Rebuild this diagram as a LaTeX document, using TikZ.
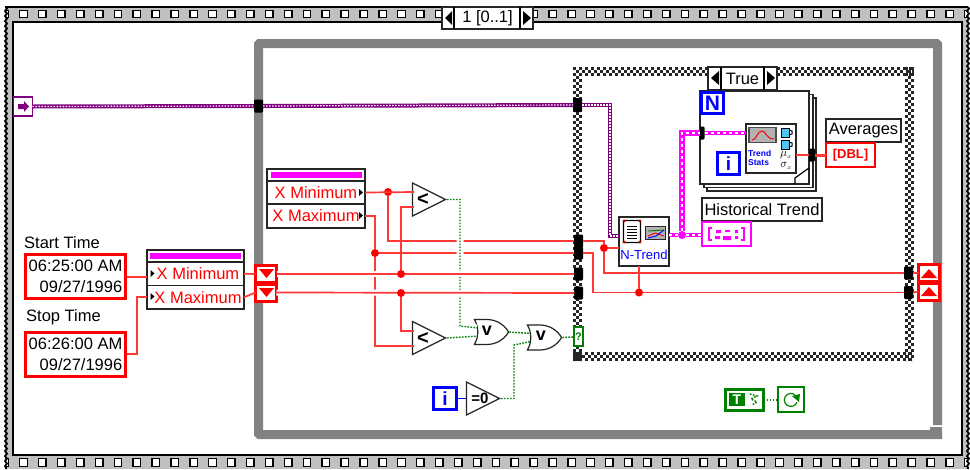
\documentclass[tikz,border=0pt]{standalone}
\usepackage{amsmath,amssymb}
\usepackage{fontspec}
\setmainfont{Liberation Sans}
\usepackage{xcolor}
\usetikzlibrary{decorations.pathmorphing,shapes.geometric,shapes.gates.logic.US}
\definecolor{wirered}{HTML}{FF3838}
\definecolor{wirepurple}{HTML}{800080}
\definecolor{arrpink}{HTML}{FF00FF}
\definecolor{stripgray}{HTML}{C0C0C0}
\definecolor{loopgray}{HTML}{828282}
\definecolor{boolgreen}{HTML}{008000}
\begin{document}
\begin{tikzpicture}[x=1pt, y=-1pt,
  wh/.style 2 args={minimum width=#1pt, minimum height=#2pt},
  cell/.style={draw=black!85, line width=1.4pt, fill=white, anchor=north west, inner sep=0pt, outer sep=0pt},
  txt/.style={font=\fontsize{16.5}{21}\selectfont, inner sep=0pt},
  rowtxt/.style={cell, text=red, font=\fontsize{16.5}{20}\selectfont},
  timebox/.style={cell, draw=red, line width=3pt, wh={100}{44}, align=right, font=\fontsize{16.5}{21}\selectfont},
  bluebox/.style={cell, draw=blue, line width=3pt, text=blue, font=\bfseries\fontsize{19}{20}\selectfont},
  shiftbox/.style={cell, draw=red, line width=3pt, wh={21}{17}},
  sprocket/.style={draw=black, line width=1.4pt, fill=white, minimum size=7.5pt, inner sep=0pt},
  checker/.style={draw=black!85, line width=3pt, dash pattern=on 3pt off 3pt},
  tunnel/.style={fill=black, rounded corners=1.2pt, inner sep=0pt, outer sep=0pt},
  jdot/.style={circle, fill=#1, inner sep=0pt, minimum size=8pt, outer sep=0pt},
  numwire/.style={draw=wirered, line width=1.7pt},
  gapwire/.style={numwire, preaction={draw=white, line width=6pt}},
  boolwire/.style={draw=boolgreen, line width=1.4pt, dash pattern=on 1.6pt off 1.4pt},
  refwire/.style={draw=wirepurple, line width=4pt, postaction={draw=white, line width=1.2pt, dash pattern=on 1.5pt off 1.5pt}},
  arrwire/.style={draw=arrpink, line width=#1, postaction={draw=white, line width=1.5pt, dash pattern=on 3pt off 3pt}},
  cmpgate/.style={isosceles triangle, isosceles triangle stretches, draw=black!85, line width=1.2pt, fill=white, wh={33}{33}, inner sep=0pt, anchor=apex},
  orgate/.style={or gate US, logic gate inputs=nn, draw=black!85, line width=1.2pt, fill=white, wh={34}{25}, inner sep=0pt}]
\useasboundingbox (0,0) rectangle (970,469);
% sequence frame
\fill[stripgray] (5,7) rectangle (968,469);
\begin{scope}
\clip (5,7) rectangle (968,469);
\foreach \n in {-1,...,50} {
  \node[sprocket] (topS\n) at (23.5+18.9*\n,14) {};
  \node[sprocket] (botS\n) at (23.5+18.9*\n,462.5) {};
}
\end{scope}
\draw[line width=1.2pt] (5,7) -- (968,7);
\draw[line width=1.8pt,decorate,decoration={snake,amplitude=1pt,segment length=5pt}] (6,7) -- (6,469);
\draw[line width=1.8pt,decorate,decoration={snake,amplitude=1pt,segment length=5pt}] (968,7) -- (968,469);
\draw[line width=1.5pt,fill=white] (13,22) rectangle (962,455);
\node[cell, wh={91}{22}, txt] (seqSel) at (442,7) {1 [0..1]};
\draw[line width=1.2pt] (454,7) -- (454,29) (520,7) -- (520,29);
\fill (452,11) -- (452,25) -- (445,18) -- cycle (523,11) -- (523,25) -- (531,18) -- cycle;
% while loop and case frame
\draw[loopgray, line width=9pt, rounded corners=1pt] (937.5,425) -- (937.5,43.5) -- (258.5,43.5) -- (258.5,434.5) -- (942,434.5);
\fill[loopgray] (930,427) rectangle (942,431);
\foreach \d/\p in {1.5/0,4.5/3,7.5/0} {
  \draw[checker, dash phase=\p pt] (573,67+\d) -- (914,67+\d);
  \draw[checker, dash phase=\p pt] (573,352+\d) -- (914,352+\d);
  \draw[checker, dash phase=\p pt] (573+\d,67) -- (573+\d,361);
  \draw[checker, dash phase=\p pt] (905+\d,67) -- (905+\d,361);
}
\node[cell, wh={69}{23}, txt] (caseSel) at (708,67) {True};
\draw[line width=1.2pt] (721,67) -- (721,90) (764,67) -- (764,90);
\fill (719,71) -- (719,85) -- (711,78) -- cycle (767,71) -- (767,85) -- (775,78) -- cycle;
% inputs
\node[cell, draw=wirepurple, wh={19}{19}] (refIn) at (13.5,97) {};
\fill[wirepurple] (18,104) -- (24,104) -- (24,101) -- (29,106.5) -- (24,112) -- (24,109) -- (18,109) -- cycle;
\node[txt, anchor=west] (startLbl) at (24,243) {Start Time};
\node[timebox] (startBox) at (25.5,254.5) {06:25:00 AM\\09/27/1996};
\node[txt, anchor=west] (stopLbl) at (26,317) {Stop Time};
\node[timebox] (stopBox) at (25.5,332.5) {06:26:00 AM\\09/27/1996};
\coordinate (startOut) at (127,277);
\coordinate (stopOut) at (127,354);
% bundle and unbundle
\node[cell, wh={97}{12}] (bunTop) at (147,250) {};
\fill[arrpink] (150,253) rectangle (241,259);
\node[rowtxt, wh={97}{23.5}] (bunMin) at (147,262) {\hspace{5pt}X Minimum};
\node[rowtxt, wh={97}{23.5}] (bunMax) at (147,285.5) {\hspace{5pt}X Maximum};
\fill (150.5,270) -- (150.5,277) -- (154.5,273.5) -- cycle (150.5,293) -- (150.5,300) -- (154.5,296.5) -- cycle;
\node[cell, wh={98}{12}] (unbTop) at (267,169) {};
\fill[arrpink] (271,172) rectangle (362,178);
\node[rowtxt, wh={98}{23}] (unbMin) at (267,181) {X Minimum\hspace{5pt}};
\node[rowtxt, wh={98}{24}] (unbMax) at (267,204) {X Maximum\hspace{5pt}};
\fill (359,189) -- (359,196) -- (363,192.5) -- cycle (359,212) -- (359,219) -- (363,215.5) -- cycle;
% shift registers
\node[shiftbox] (srLa) at (255.5,265.5) {};
\node[shiftbox] (srLb) at (255.5,284) {};
\node[shiftbox] (srRa) at (918.5,264.5) {};
\node[shiftbox] (srRb) at (918.5,283) {};
\fill[red] (259,269) -- (274,269) -- (266.5,278) -- cycle (259,288) -- (274,288) -- (266.5,297) -- cycle;
\fill[red] (921,278) -- (937,278) -- (929,269) -- cycle (921,296) -- (937,296) -- (929,287) -- cycle;
% tunnels
\node[tunnel, wh={9}{13}] (tunRefA) at (258.5,106) {};
\node[tunnel, wh={9}{14}] (tunRefB) at (577.5,105) {};
\node[tunnel, wh={9}{13}] (tunA) at (578.5,241) {};
\node[tunnel, wh={9}{13}] (tunB) at (578.5,253) {};
\node[tunnel, wh={9}{13}] (tunC) at (578.5,274) {};
\node[tunnel, wh={9}{13}] (tunD) at (578.5,293) {};
\node[tunnel, wh={9}{13}] (tunE) at (908.5,273) {};
\node[tunnel, wh={9}{13}] (tunF) at (908.5,292.5) {};
% comparators and gates
\node[cmpgate] (cmpA) at (447,199.5) {};
\node[cmpgate] (cmpB) at (447,338) {};
\node[cmpgate] (cmpZ) at (501,398.5) {};
\node[font=\bfseries\fontsize{20}{20}\selectfont, inner sep=0pt] (cmpAtxt) at (423,199) {<};
\node[font=\bfseries\fontsize{20}{20}\selectfont, inner sep=0pt] (cmpBtxt) at (423,338) {<};
\node[font=\bfseries\fontsize{15}{15}\selectfont, inner sep=0pt] (cmpZtxt) at (480,398.5) {=0};
\node[orgate] (orA) at (489,332) {};
\node[orgate] (orB) at (542,337.5) {};
\node[font=\bfseries\fontsize{18}{18}\selectfont, inner sep=0pt] (orAtxt) at (487,331) {v};
\node[font=\bfseries\fontsize{18}{18}\selectfont, inner sep=0pt] (orBtxt) at (541,336) {v};
\node[cell, draw=boolgreen, wh={9}{19}, text=boolgreen, font=\bfseries\fontsize{11}{11}\selectfont] (selQ) at (574,327) {?};
\node[bluebox, wh={23}{22}] (iterA) at (433.5,387.5) {i};
% wires on the left
\coordinate (cmpAa) at (414,192);
\coordinate (cmpAb) at (414,207);
\coordinate (cmpBa) at (414,331);
\coordinate (cmpBb) at (414,346);
\coordinate (selIn) at (574,337);
\node[jdot=red] (jMin) at (388,192) {};
\node[jdot=red] (jMax) at (375,253) {};
\draw[numwire] (startOut) -- (startOut -| bunMin.west);
\draw[numwire] (stopOut) -- ++(10,0) |- (bunMax.west);
\draw[numwire] (bunMin.east) -- (srLa.west);
\draw[numwire] (bunMax.east) -- (srLb.west);
\draw[numwire] (unbMin.east) -- (cmpAa);
\draw[numwire] (jMin) |- (tunA.west);
\draw[numwire] (unbMax.east) -| (jMax);
\draw[numwire] (jMax) -- (tunB.west);
\draw[numwire] (jMax) |- (cmpBb);
\draw[boolwire, preaction={draw=white, solid, line width=7pt}] (cmpA.apex) -| (460,326) -- (orA.input 1);
\draw[boolwire] (cmpB.apex) -- (orA.input 2);
\draw[boolwire] (orA.output) -- (orB.input 1);
\draw[boolwire] (cmpZ.apex) -| (514,345) -- (orB.input 2);
\draw[boolwire] (orB.output) -- (selIn);
\draw[gapwire] (srLa.east) -- (tunC.west);
\draw[gapwire] (srLb.east) -- (tunD.west);
\node[jdot=red] (jLa) at (401,274) {};
\node[jdot=red] (jLb) at (401,293) {};
\draw[numwire] (jLa) |- (cmpAb);
\draw[numwire] (jLb) |- (cmpBa);
\draw[draw=blue, line width=1.5pt] (iterA.east) -- (cmpZ.west |- iterA.east);
\draw[refwire] (refIn.east) -- (tunRefA.west);
% for loop stack
\node[cell, line width=1.2pt, wh={109}{93}] (forC) at (707,98) {};
\node[cell, line width=1.2pt, wh={109}{93}] (forB) at (704,94.5) {};
\node[cell, line width=1.2pt, wh={109}{93}] (forA) at (700,91) {};
\draw[line width=1.2pt] (795,184) -- (795,178) -- (809,168);
\node[bluebox, wh={22}{21}, font=\bfseries\fontsize{21}{21}\selectfont] (countN) at (701.5,92.5) {N};
\node[bluebox, wh={22}{22}] (iterB) at (717.5,152.5) {i};
\node[cell, line width=1.2pt, wh={50}{49}] (trendStats) at (746,124) {};
\node[cell, draw=black!70, fill=black!30, line width=1.2pt, wh={27}{15}] (statsPlot) at (749,127.5) {};
\draw[red, line width=1pt] (752,140) .. controls (757,140) and (757,131) .. (762,131) .. controls (766,131) and (766,139) .. (774,139);
\node[font=\bfseries\fontsize{8.5}{9.5}\selectfont, text=blue, align=left, inner sep=0pt, anchor=west] (statsTxt) at (748,158) {Trend\\Stats};
\foreach \y in {128,140}{
  \draw[line width=1pt, fill=cyan!70!white] (781,\y) rectangle (789,\y+9);
  \draw[line width=1pt] (789,\y+2) -- (792,\y+3) -- (792,\y+6) -- (789,\y+7);
}
\node[font=\fontsize{12}{12}\selectfont, inner sep=0pt] (muTxt) at (786,155) {$\mu_{\scriptscriptstyle x}$};
\node[font=\fontsize{12}{12}\selectfont, inner sep=0pt] (sigmaTxt) at (786,166) {$\sigma_{\scriptscriptstyle x}$};
\node[tunnel, wh={5}{13}] (tunFor) at (702,133) {};
\node[tunnel, wh={6}{13}] (tunAvg) at (812,155) {};
% indicators
\node[cell, wh={75}{23}, txt] (avgLbl) at (826,119) {Averages};
\node[cell, draw=red, wh={49}{24}, text=red, font=\bfseries\fontsize{13}{13}\selectfont] (avgInd) at (826,143) {[DBL]};
\node[cell, wh={120}{23}, txt] (histLbl) at (702,198) {Historical Trend};
\node[cell, draw=arrpink, wh={49}{24}] (histInd) at (702,222) {};
\draw[arrpink, line width=1.4pt] (712,228) -- (709,228) -- (709,240) -- (712,240) (741,228) -- (744,228) -- (744,240) -- (741,240);
\fill[arrpink] (716,230) rectangle (721,233) (715,236) rectangle (720,239) (723,236) rectangle (731,240) (725,230) rectangle (730,232) (735,230) rectangle (738,233) (735,236) rectangle (738,239);
% ntrend
\node[cell, line width=1.2pt, wh={50}{49}] (nTrend) at (619,217) {};
\node[draw=black, line width=1.2pt, fill=white, rounded corners=1pt, minimum width=17pt, minimum height=22pt, inner sep=0pt] (nDoc) at (632,231.5) {};
\foreach \y in {226,229,232,235,238} \draw[line width=1pt] (627,\y) -- (637,\y);
\node[cell, fill=black!30, wh={20}{13}] (nPlot) at (645.5,226.5) {};
\draw[red, line width=.9pt] (648,236) -- (655,233) -- (664,236);
\draw[boolgreen, line width=.9pt] (648,231) -- (664,230);
\draw[blue, line width=.9pt] (648,238) -- (656,236) -- (664,230);
\foreach \p in {(624,221),(640,221),(624,242),(640,242)} \fill[red!70!black] \p circle (1.6pt);
\node[text=blue, font=\fontsize{13}{15}\selectfont, inner sep=0pt] (nTrendTxt) at (644,255) {N-Trend};
% wires inside the case
\coordinate (nRefIn) at (619,236);
\coordinate (nErrIn) at (619,248);
\node[jdot=red] (jIn) at (604,248) {};
\node[jdot=red] (jOut) at (639,292.5) {};
\node[jdot=arrpink] (jArr) at (682,235) {};
\draw[numwire] (tunA.east) -| (jIn);
\draw[numwire] (jIn) -- (nErrIn);
\draw[numwire] (jIn) |- (tunE.west);
\draw[numwire] (tunB.east) -| (593,292.5) -- (jOut);
\draw[numwire] (jOut) -- (tunF.west);
\draw[numwire] (jOut) -- (nTrend.south -| jOut);
\draw[numwire] (tunE.east) -- (srRa.west);
\draw[numwire] (tunF.east) -- (srRb.west);
\draw[numwire] (trendStats.east |- tunAvg) -- (tunAvg.west);
\draw[numwire, line width=3pt] (tunAvg.east) -- (avgInd.west |- tunAvg);
\draw[refwire] (tunRefA.east) -- (tunRefB.west);
\draw[refwire] (tunRefB.east) -| (610,236) -- (nRefIn);
\draw[arrwire=4pt] (nTrend.east |- jArr) -- (jArr);
\draw[arrwire=4pt] (jArr) -- (histInd.west |- jArr);
\draw[arrwire=6pt] (jArr) |- (tunFor.west);
\draw[arrwire=4pt] (tunFor.east) -- (trendStats.west |- tunFor);
% loop terminal
\node[cell, draw=boolgreen, line width=3pt, wh={38}{21}] (trueConst) at (725.5,389.5) {};
\node[fill=boolgreen, text=white, font=\bfseries\fontsize{14}{14}\selectfont, wh={16}{13}, inner sep=0pt] (trueT) at (737,399.5) {T};
\draw[boolwire] (750,394) -- (757,396) -- (751,399) -- (757,402) -- (752,405);
\node[cell, draw=boolgreen, line width=1.2pt, wh={26}{25}] (loopCond) at (778,387) {};
\draw[boolgreen, line width=1.2pt] (795,395) arc (50:340:6.5pt);
\fill[boolgreen] (792,396) -- (800,394) -- (799,402) -- cycle;
\draw[boolwire] (trueConst.east) -- (loopCond.west |- trueConst.east);
\end{tikzpicture}
\end{document}
